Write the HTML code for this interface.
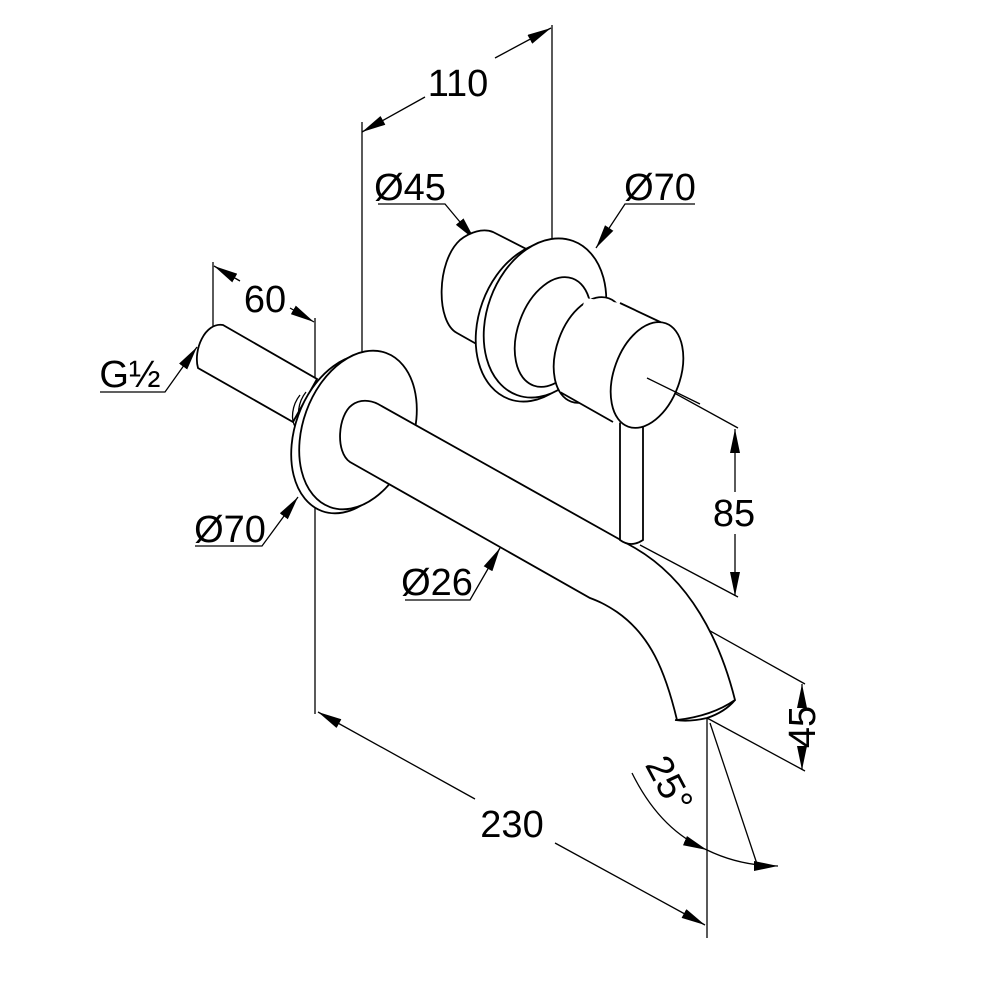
<!DOCTYPE html>
<html><head><meta charset="utf-8"><style>
html,body{margin:0;padding:0;background:#fff}
svg{display:block}
text{font-family:"Liberation Sans",Arial,sans-serif;font-size:38px;fill:#000}
</style></head><body>
<svg width="1000" height="1000" viewBox="0 0 1000 1000" xmlns="http://www.w3.org/2000/svg">
<defs>
<marker id="a" viewBox="0 0 24 10" refX="24" refY="5" markerWidth="24" markerHeight="10" markerUnits="userSpaceOnUse" orient="auto-start-reverse" preserveAspectRatio="none"><path d="M0,0 L24,5 L0,10 z" fill="#000"/></marker>
</defs>
<g fill="none" stroke="#000" stroke-width="1.3">
<line x1="362" y1="122" x2="362" y2="360"/>
<line x1="552" y1="25" x2="552" y2="253"/>
<line x1="213" y1="262" x2="213" y2="345"/>
<line x1="315" y1="318" x2="315" y2="400"/>
<line x1="315" y1="475" x2="315" y2="714"/>
<line x1="707" y1="718" x2="707" y2="938"/>
<line x1="425" y1="97" x2="362" y2="132" marker-end="url(#a)"/>
<line x1="495" y1="58" x2="551" y2="28" marker-end="url(#a)"/>
<line x1="240" y1="281" x2="214" y2="266" marker-end="url(#a)"/>
<line x1="290" y1="308" x2="314" y2="322" marker-end="url(#a)"/>
<line x1="475" y1="799" x2="318" y2="712" marker-end="url(#a)"/>
<line x1="555" y1="843" x2="705" y2="925" marker-end="url(#a)"/>
<line x1="647" y1="378" x2="738" y2="428"/>
<line x1="640" y1="545" x2="738" y2="597"/>
<line x1="735" y1="492" x2="735" y2="429" marker-end="url(#a)"/>
<line x1="735" y1="534" x2="735" y2="596" marker-end="url(#a)"/>
<line x1="628" y1="585" x2="805" y2="684"/>
<line x1="707" y1="718" x2="805" y2="771"/>
<line x1="802" y1="706" x2="802" y2="684" marker-end="url(#a)"/>
<line x1="802" y1="749" x2="802" y2="770" marker-end="url(#a)"/>
<line x1="710" y1="723" x2="758" y2="867"/>
<path d="M632,773 Q660,830 707,850" marker-end="url(#a)"/>
<path d="M707,850 Q740,866 778,866" marker-end="url(#a)"/>
<polyline points="378,204 445,204 475,240" marker-end="url(#a)"/>
<polyline points="695,204 625,204 596,248" marker-end="url(#a)"/>
<polyline points="100,392 165,392 197,347" marker-end="url(#a)"/>
<polyline points="195,546 262,546 298,497" marker-end="url(#a)"/>
<polyline points="405,600 470,600 500,548" marker-end="url(#a)"/>
</g>

<g fill="#fff" stroke="#000" stroke-width="1.8">
<path d="M223,325 L317,379 L293,422 L198,368 C193,350 205,322 223,325 Z"/>
<path d="M300,395 C292,405 290,420 296,428" fill="none" stroke-width="1.3"/>
<path d="M306,392 C298,402 296,417 302,425" fill="none" stroke-width="1.3"/>
<ellipse cx="350" cy="434" rx="55" ry="82" transform="rotate(20 350 434)"/>
<ellipse cx="358" cy="430" rx="55" ry="82" transform="rotate(20 358 430)"/>
<path d="M378,404 L635,548 C690,580 720,640 735,700 Q712,716 677,720 C665,670 650,635 617,612 C605,604 598,601 590,598 L350,462 C335,452 338,415 352,405 C360,399 370,400 378,404 Z"/>
<path d="M620,420 L620,540 Q631,548 643,540 L643,420 Z"/>
<path d="M493,232 L540,256 L530,340 L480,346 L457,333 C436,322 436,262 460,240 C470,232 483,228 493,232 Z"/>
<ellipse cx="537" cy="322" rx="58" ry="82" transform="rotate(20 537 322)"/>
<ellipse cx="545" cy="318" rx="58" ry="82" transform="rotate(20 545 318)"/>
<ellipse cx="553" cy="332" rx="35" ry="57" transform="rotate(20 553 332)"/>
<ellipse cx="590" cy="350" rx="33" ry="55" transform="rotate(20 590 350)"/>
<path d="M585,298 L620,303 L673,328 L636,424 L613,422 L560,392 Z" stroke="none"/>
<line x1="620" y1="303" x2="673" y2="328"/>
<line x1="560" y1="392" x2="613" y2="422"/>
<ellipse cx="647" cy="375" rx="33" ry="55" transform="rotate(20 647 375)"/>
</g>
<line x1="647" y1="378" x2="700" y2="404" stroke="#000" stroke-width="1.3"/>
<path d="M675,720 Q690,722 707,718 Q725,712 735,700" fill="none" stroke="#000" stroke-width="1.8"/>

<text x="458" y="96" text-anchor="middle">110</text>
<text x="410" y="200" text-anchor="middle">Ø45</text>
<text x="660" y="200" text-anchor="middle">Ø70</text>
<text x="265" y="312" text-anchor="middle">60</text>
<text x="130" y="387" text-anchor="middle">G½</text>
<text x="230" y="542" text-anchor="middle">Ø70</text>
<text x="437" y="595" text-anchor="middle">Ø26</text>
<text x="734" y="526" text-anchor="middle">85</text>
<text x="512" y="837" text-anchor="middle">230</text>
<text transform="translate(815,727) rotate(-90)" text-anchor="middle">45</text>
<text transform="translate(658,790) rotate(62)" text-anchor="middle">25°</text>
</svg>
</body></html>
